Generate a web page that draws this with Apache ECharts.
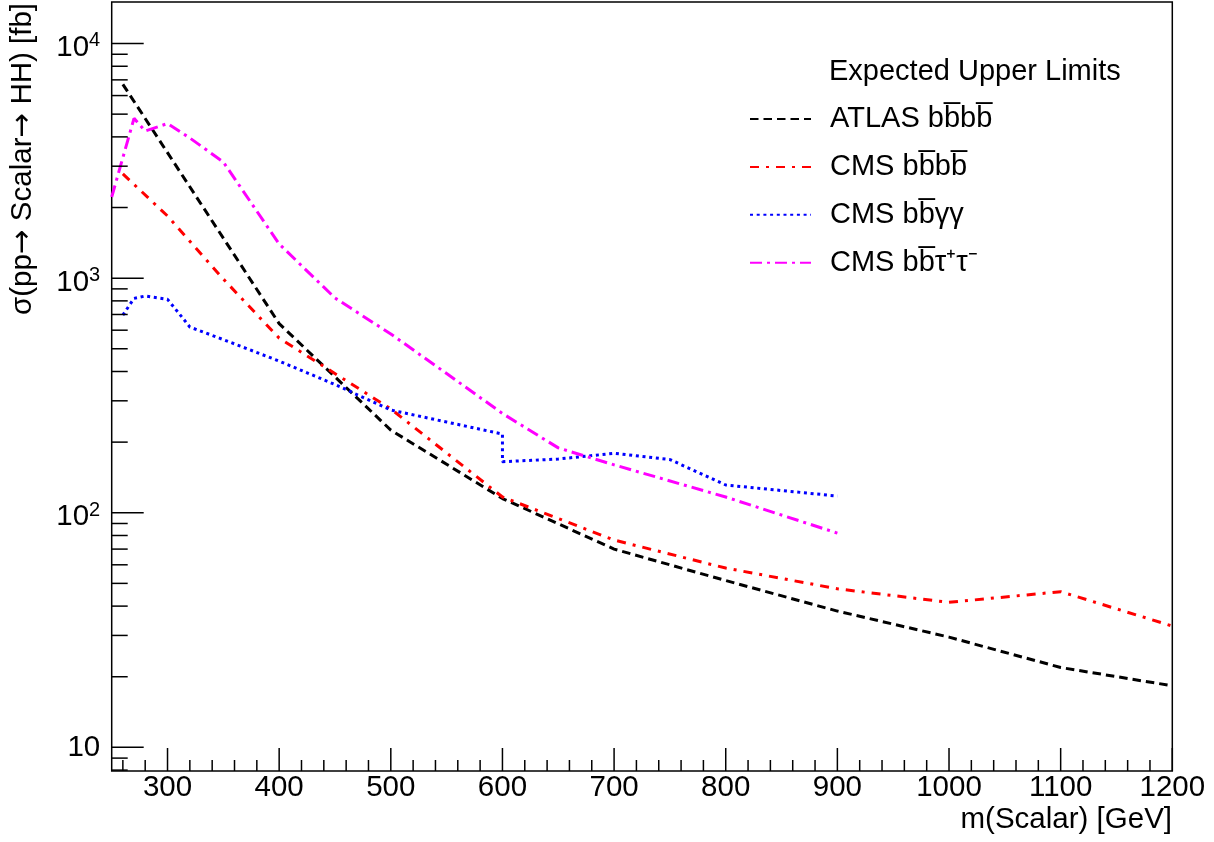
<!DOCTYPE html>
<html>
<head>
<meta charset="utf-8">
<title>Expected upper limits on pp → Scalar → HH</title>
<script src="https://cdn.jsdelivr.net/npm/echarts@6/dist/echarts.min.js"></script>
<style>
  html, body { margin: 0; padding: 0; background: #ffffff; }
  #chart { width: 1214px; height: 842px; }
</style>
</head>
<body>
<div id="chart"></div>
<script>
// Expected upper limits on sigma(pp -> Scalar -> HH) in fb versus scalar mass in GeV.
const massAtlas4b  = [260, 400, 500, 600, 700, 800, 900, 1000, 1100, 1200];
const limitAtlas4b = [6700, 640, 225, 115, 70, 51.4, 38.1, 29.5, 21.9, 18.3];

const massCms4b  = [260, 300, 350, 400, 500, 600, 700, 800, 900, 1000, 1100, 1200];
const limitCms4b = [2780, 1840, 991, 555, 277, 116.7, 76.5, 58.1, 47.4, 41.5, 46.1, 32.9];

const massCmsBbgg  = [260, 270, 280, 300, 310, 320, 350, 400, 450, 500, 550, 600, 600, 650, 700, 750, 800, 900];
const limitCmsBbgg = [696, 820, 839, 812, 710, 619, 547, 443, 352, 274, 243.6, 216.5, 165, 169.4, 179.2, 168.6, 131.3, 117.8];

const massCmsBbtt  = [250, 270, 280, 300, 320, 350, 400, 450, 500, 550, 600, 650, 700, 800, 900];
const limitCmsBbtt = [2217, 4800, 4236, 4560, 3956, 3126, 1398, 823, 578, 392, 265, 189, 160, 116.7, 81.9];

// Axis ranges and tick positions
const X_MIN = 250, X_MAX = 1200;
const Y_MIN = 7.93, Y_MAX = 15030;
const xMajorTicks = [300, 400, 500, 600, 700, 800, 900, 1000, 1100, 1200];
const xMinorTicks = [260, 280, 320, 340, 360, 380, 420, 440, 460, 480, 520, 540, 560, 580,
                     620, 640, 660, 680, 720, 740, 760, 780, 820, 840, 860, 880, 920, 940, 960, 980,
                     1020, 1040, 1060, 1080, 1120, 1140, 1160, 1180];
const yMajorTicks = [10, 100, 1000, 10000];
const yMinorTicks = [8, 9, 20, 30, 40, 50, 60, 70, 80, 90, 200, 300, 400, 500, 600, 700, 800, 900,
                     2000, 3000, 4000, 5000, 6000, 7000, 8000, 9000];

const seriesNames = ['ATLAS bb\u0305bb\u0305', 'CMS bb\u0305bb\u0305', 'CMS bb\u0305\u03b3\u03b3', 'CMS bb\u0305\u03c4\u207a\u03c4\u207b'];
const legendTitle = 'Expected Upper Limits';
const xTitle = 'm(Scalar) [GeV]';
// y title, with the arrows set in their own rich-text style
const yTitle = '\u03c3(pp{ar|\u2192} Scalar{ar|\u2192} HH) [fb]';

const FONT = '"Liberation Sans", Arial, Helvetica, sans-serif';

function pairs(xs, ys) { return xs.map((x, i) => [x, ys[i]]); }

function lineSeries(name, xs, ys, color, dash) {
  return {
    name: name, type: 'line', data: pairs(xs, ys),
    symbol: 'none', showSymbol: false, smooth: false, z: 3,
    lineStyle: { color: color, width: 3, type: dash, cap: 'butt' },
    itemStyle: { color: color },
    emphasis: { disabled: true }
  };
}

// Tick marks drawn inward from the frame through the axis scales
function yTickSeries(values, len) {
  return {
    type: 'custom', silent: true, z: 5, clip: false,
    data: values.map(v => [X_MIN, v]),
    renderItem: function (params, api) {
      const p = api.coord([api.value(0), api.value(1)]);
      const cs = params.coordSys;
      return { type: 'line', shape: { x1: cs.x, y1: p[1], x2: cs.x + len, y2: p[1] },
               style: { stroke: '#000', lineWidth: 1.5 } };
    }
  };
}
function xTickSeries(values, len) {
  return {
    type: 'custom', silent: true, z: 5, clip: false,
    data: values.map(v => [v, 100]),
    renderItem: function (params, api) {
      const p = api.coord([api.value(0), api.value(1)]);
      const cs = params.coordSys;
      const yb = cs.y + cs.height;
      return { type: 'line', shape: { x1: p[0], y1: yb, x2: p[0], y2: yb - len },
               style: { stroke: '#000', lineWidth: 1.5 } };
    }
  };
}

const chart = echarts.init(document.getElementById('chart'), null, { renderer: 'canvas' });

const gridLeft = 111.7, gridRight = 41.7, gridTop = 2, gridBottom = 71;

chart.setOption({
  animation: false,
  backgroundColor: '#ffffff',
  grid: {
    left: gridLeft, right: gridRight, top: gridTop, bottom: gridBottom,
    show: true, borderColor: '#000', borderWidth: 1.5, backgroundColor: 'transparent',
    containLabel: false, outerBoundsMode: 'none'
  },
  xAxis: {
    type: 'value', min: X_MIN, max: X_MAX,
    axisLine: { show: false }, axisTick: { show: false }, splitLine: { show: false },
    axisLabel: {
      customValues: xMajorTicks, color: '#000', fontFamily: FONT, fontSize: 29.5, margin: 2,
      formatter: function (v) { return String(v); }
    }
  },
  yAxis: {
    type: 'log', logBase: 10, min: Y_MIN, max: Y_MAX,
    axisLine: { show: false }, axisTick: { show: false }, splitLine: { show: false },
    axisLabel: {
      showMinLabel: false, showMaxLabel: false, margin: 11.5, color: '#000',
      fontFamily: FONT,
      formatter: function (v) {
        const e = Math.round(Math.log10(v));
        return e === 1 ? '{b|10}' : '{a|10}{e|' + e + '}';
      },
      rich: {
        a: { fontFamily: FONT, fontSize: 29.5, lineHeight: 38.5, verticalAlign: 'bottom', color: '#000' },
        e: { fontFamily: FONT, fontSize: 20, lineHeight: 20, padding: [6.5, 0, 0, 0], verticalAlign: 'top', color: '#000' },
        b: { fontFamily: FONT, fontSize: 29.5, lineHeight: 29.5, color: '#000' }
      }
    }
  },
  legend: {
    data: seriesNames,
    orient: 'vertical', left: 749, top: 104, padding: 0,
    itemWidth: 61, itemHeight: 14, itemGap: 17.9,
    selectedMode: false,
    itemStyle: { opacity: 0 },
    textStyle: { fontFamily: FONT, fontSize: 29, color: '#000', lineHeight: 30, padding: [0, 0, 0, 14] }
  },
  graphic: [
    { type: 'text', x: 829, y: 72, silent: true,
      style: { text: legendTitle, fontFamily: FONT, fontSize: 29, fill: '#000', textAlign: 'left', textVerticalAlign: 'middle' } },
    { type: 'text', x: 1172, y: 820, silent: true,
      style: { text: xTitle, fontFamily: FONT, fontSize: 29.5, fill: '#000', textAlign: 'right', textVerticalAlign: 'middle' } },
    { type: 'text', x: 23, y: 3, rotation: Math.PI / 2, silent: true,
      style: {
        text: yTitle, fontFamily: FONT, fontSize: 29.5, fill: '#000', textAlign: 'right', textVerticalAlign: 'middle',
        rich: { ar: { fontFamily: '"DejaVu Sans", sans-serif', fontSize: 29.5, fill: '#000' } }
      } }
  ],
  series: [
    lineSeries(seriesNames[0], massAtlas4b, limitAtlas4b, '#000000', [8.5, 5]),
    lineSeries(seriesNames[1], massCms4b, limitCms4b, '#ff0000', [9, 7, 3, 7]),
    lineSeries(seriesNames[2], massCmsBbgg, limitCmsBbgg, '#0000ff', [3, 3.7]),
    lineSeries(seriesNames[3], massCmsBbtt, limitCmsBbtt, '#ff00ff', [12, 5, 3, 5]),
    yTickSeries(yMajorTicks, 32),
    yTickSeries(yMinorTicks, 16),
    xTickSeries(xMajorTicks, 23),
    xTickSeries(xMinorTicks, 11)
  ]
});
</script>
</body>
</html>
